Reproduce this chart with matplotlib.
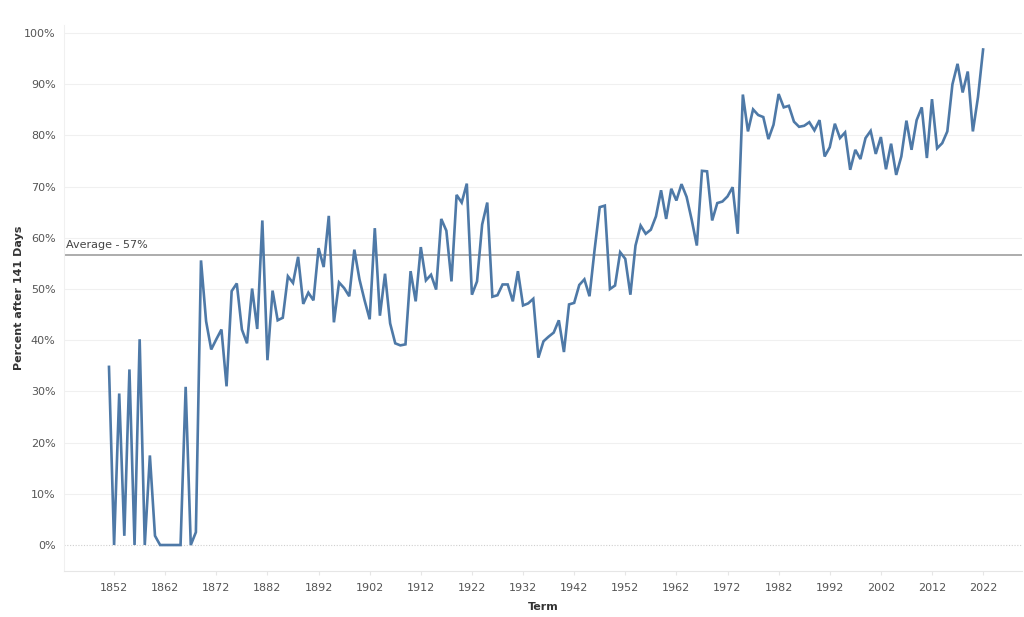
import numpy as np
import matplotlib
matplotlib.use("Agg")
import matplotlib.pyplot as plt

# Terms, one value per year from 1851 to 2022 (percent after 141 days)
first_term = 1851
pct = [
    34.8, 0.0, 29.6, 1.8, 34.3, 0.0, 40.2, 0.0, 17.5, 1.8,   # 1851-1860
    0.0, 0.0, 0.0, 0.0, 0.0, 30.9, 0.0, 2.5, 55.6, 43.7,     # 1861-1870
    38.2, 40.2, 42.1, 31.0, 49.6, 51.1, 42.1, 39.4, 50.1, 42.2,  # 1871-1880
    63.4, 36.1, 49.7, 43.9, 44.4, 52.5, 51.2, 56.3, 47.1, 49.3,  # 1881-1890
    47.8, 58.0, 54.3, 64.3, 43.5, 51.3, 50.2, 48.6, 57.7, 51.9,  # 1891-1900
    47.8, 44.1, 61.9, 44.8, 53.0, 43.3, 39.4, 39.0, 39.2, 53.5,  # 1901-1910
    47.6, 58.2, 51.7, 52.8, 49.9, 63.7, 61.4, 51.5, 68.4, 66.9,  # 1911-1920
    70.6, 48.9, 51.5, 62.6, 66.9, 48.5, 48.8, 50.9, 50.9, 47.6,  # 1921-1930
    53.5, 46.8, 47.2, 48.1, 36.6, 39.8, 40.7, 41.5, 43.9, 37.7,  # 1931-1940
    47.0, 47.3, 50.8, 51.9, 48.6, 57.7, 66.0, 66.3, 50.0, 50.7,  # 1941-1950
    57.2, 55.9, 48.9, 58.5, 62.4, 60.8, 61.6, 64.2, 69.3, 63.7,  # 1951-1960
    69.6, 67.3, 70.5, 68.0, 63.5, 58.5, 73.1, 73.0, 63.4, 66.8,  # 1961-1970
    67.1, 68.1, 69.9, 60.8, 88.0, 80.8, 85.1, 84.0, 83.6, 79.3,  # 1971-1980
    82.1, 88.1, 85.5, 85.8, 82.7, 81.7, 81.9, 82.6, 81.0, 83.0,  # 1981-1990
    75.9, 77.7, 82.3, 79.5, 80.6, 73.3, 77.2, 75.4, 79.5, 80.9,  # 1991-2000
    76.4, 79.7, 73.4, 78.4, 72.3, 75.9, 82.9, 77.2, 83.0, 85.5,  # 2001-2010
    75.6, 87.1, 77.5, 78.5, 80.8, 90.0, 94.0, 88.4, 92.5, 80.8,  # 2011-2020
    87.5, 96.8,                                                  # 2021-2022
]
terms = np.arange(first_term, first_term + len(pct))
average = 56.7
tick_years = list(range(1852, 2023, 10))
y_ticks = list(range(0, 101, 10))

fig = plt.figure(figsize=(10.24, 6.17), dpi=100)
ax = fig.add_axes([0.0625, 0.0746, 0.9355, 0.885])

for y in y_ticks[1:]:
    ax.axhline(y, color="#f0f0f0", lw=0.8, zorder=0)
ax.axhline(0, color="#cfcfcf", lw=0.8, ls=(0, (1, 1.5)), zorder=0)

ax.plot(terms, pct, color="#4e79a7", lw=1.9, solid_joinstyle="miter", zorder=3)

ax.axhline(average, color="#a6a6a6", lw=1.3, zorder=2)
ax.text(1842.6, average + 0.9, f"Average - {average:.0f}%", fontsize=8,
        color="#444444", ha="left", va="bottom")

ax.set_xlim(1842.2, 2029.6)
ax.set_ylim(-5.07, 101.6)
ax.set_xticks(tick_years)
ax.set_xticklabels([str(t) for t in tick_years])
ax.set_yticks(y_ticks)
ax.set_yticklabels([f"{v}%" for v in y_ticks])

for side in ["top", "right"]:
    ax.spines[side].set_visible(False)
ax.spines["left"].set_color("#f0f0f0")
ax.spines["bottom"].set_color("#e6e6e6")
ax.tick_params(axis="y", length=0, labelsize=8, labelcolor="#555555", pad=6)
ax.tick_params(axis="x", length=3, color="#e6e6e6", labelsize=8,
               labelcolor="#555555", pad=6)

ax.set_xlabel("Term", fontsize=8, fontweight="bold", color="#333333", labelpad=6)
ax.set_ylabel("Percent after 141 Days", fontsize=8, fontweight="bold",
              color="#333333", labelpad=0)

fig.savefig("out.png", dpi=100)
